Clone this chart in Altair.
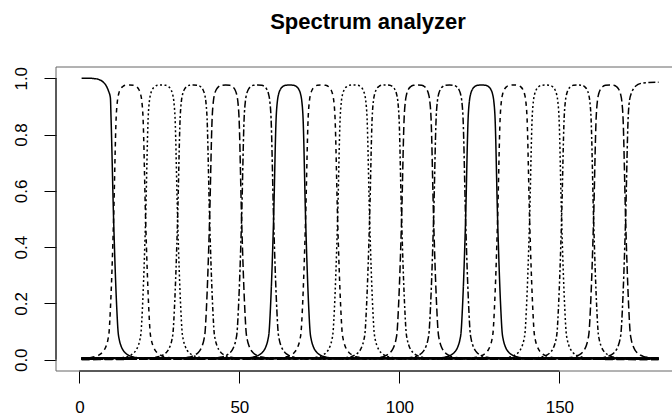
import altair as alt
import pandas as pd

# ---------------- data ----------------
TITLE = "Spectrum analyzer"
X_TICKS = [0, 50, 100, 150]
Y_TICKS = [0.0, 0.2, 0.4, 0.6, 0.8, 1.0]
X_DOMAIN = [-7.3, 185.2]
Y_DOMAIN = [-0.04, 1.04]
X_FIRST = 0.7
X_LAST = 181.0

# line type of each of the 18 filter curves (R lty 1..6 cycling)
CURVE_LTY = ["solid", "dashed", "dotted", "dotdash", "longdash", "twodash",
             "solid", "dashed", "dotted", "dotdash", "longdash", "twodash",
             "solid", "dashed", "dotted", "dotdash", "longdash", "twodash"]

# crossing points between neighbouring filters
BOUNDARIES = [10.7, 20.7, 30.7, 40.7, 50.7, 60.7, 70.7, 80.7, 90.7,
              100.7, 110.7, 120.7, 130.7, 140.7, 150.7, 160.7, 170.7]

# stop-band level of each curve (all curves overlap near zero)
CURVE_FLOOR = [0.003, 0.006, 0.002, 0.005, 0.001, 0.004, 0.006, 0.002, 0.005,
               0.003, 0.001, 0.004, 0.006, 0.002, 0.005, 0.003, 0.004, 0.007]

# low-pass plateau and knee
LOW_X = [0.7, 3.0, 4.5, 6.0, 7.3, 8.3, 9.1, 9.7]
LOW_Y = [1.0, 1.0, 0.999, 0.996, 0.988, 0.975, 0.955, 0.93]
# high-pass knee and plateau
HIGH_X = [171.9, 172.6, 173.5, 174.6, 176.0, 178.0, 181.0]
HIGH_Y = [0.92, 0.95, 0.968, 0.978, 0.983, 0.985, 0.986]

# response around one band edge: distance from the edge (positive = inside)
EDGE_D = [-9.0, -7.0, -5.5, -4.5, -3.6, -2.9, -2.3, -1.8, -1.4, -1.0,
          0.0, 0.8, 1.2, 1.6, 2.1, 2.8, 3.7]
EDGE_Y = [0.005, 0.008, 0.012, 0.017, 0.025, 0.035, 0.05, 0.07, 0.1, 0.18,
          0.5, 0.86, 0.92, 0.945, 0.96, 0.97, 0.975]
PEAK_Y = 0.976

DASH = {
    "solid": [1, 0],
    "dashed": [4.5, 4],
    "dotted": [2, 2.5],
    "dotdash": [2, 2.5, 4.5, 2.5],
    "longdash": [8, 3.5],
    "twodash": [2.5, 2.5, 7, 2.5],
}

# ---------------- build table ----------------
rows = []
n = len(CURVE_LTY)
for c in range(n):
    fl = CURVE_FLOOR[c]
    pts = []
    if c == 0:
        pts += list(zip(LOW_X, LOW_Y))
        b = BOUNDARIES[0]
        pts += [(b - d, max(y, fl)) for d, y in zip(EDGE_D, EDGE_Y) if d < 1.2]
        pts.append((X_LAST, fl))
    elif c == n - 1:
        b = BOUNDARIES[-1]
        pts.append((X_FIRST, fl))
        pts += [(b + d, max(y, fl)) for d, y in zip(EDGE_D, EDGE_Y) if d < 1.2]
        pts += list(zip(HIGH_X, HIGH_Y))
    else:
        L, R = BOUNDARIES[c - 1], BOUNDARIES[c]
        if L + EDGE_D[0] > X_FIRST:
            pts.append((X_FIRST, fl))
        pts += [(L + d, max(y, fl)) for d, y in zip(EDGE_D, EDGE_Y)]
        pts.append(((L + R) / 2, PEAK_Y))
        pts += [(R - d, max(y, fl)) for d, y in zip(EDGE_D, EDGE_Y)]
        if R - EDGE_D[0] < X_LAST:
            pts.append((X_LAST, fl))
    for x, y in pts:
        rows.append({"curve": c, "lty": CURVE_LTY[c], "x": x, "y": y})

df = pd.DataFrame(rows)

frame = pd.DataFrame({
    "x": [X_DOMAIN[0], X_DOMAIN[0], X_DOMAIN[0]],
    "x2": [X_DOMAIN[1], X_DOMAIN[1], X_DOMAIN[0]],
    "y": [Y_DOMAIN[1], Y_DOMAIN[0], Y_DOMAIN[0]],
    "y2": [Y_DOMAIN[1], Y_DOMAIN[0], Y_DOMAIN[1]],
})
axis_lines = pd.DataFrame({
    "x": [X_TICKS[0], X_DOMAIN[0]],
    "x2": [X_TICKS[-1], X_DOMAIN[0]],
    "y": [Y_DOMAIN[0], Y_TICKS[0]],
    "y2": [Y_DOMAIN[0], Y_TICKS[-1]],
})

xs = alt.Scale(domain=X_DOMAIN, nice=False, zero=False)
ys = alt.Scale(domain=Y_DOMAIN, nice=False, zero=False)

AX_X = alt.Axis(values=X_TICKS, title=None, domain=False, grid=False,
                tickSize=12, labelPadding=29, labelBaseline="alphabetic")
AX_Y = alt.Axis(values=Y_TICKS, title=None, domain=False, grid=False,
                format=".1f", tickSize=12, labelPadding=18, labelAngle=270,
                labelAlign="center", labelBaseline="alphabetic")

frame_layer = alt.Chart(frame).mark_rule(color="#666666", strokeWidth=1).encode(
    x=alt.X("x:Q", scale=xs, axis=AX_X),
    x2="x2:Q",
    y=alt.Y("y:Q", scale=ys, axis=AX_Y),
    y2="y2:Q",
)
axis_layer = alt.Chart(axis_lines).mark_rule(color="black", strokeWidth=1).encode(
    x=alt.X("x:Q", scale=xs, axis=AX_X),
    x2="x2:Q",
    y=alt.Y("y:Q", scale=ys, axis=AX_Y),
    y2="y2:Q",
)
lines = alt.Chart(df).mark_line(color="black", strokeWidth=1.5,
                                interpolate="monotone").encode(
    x=alt.X("x:Q", scale=xs, axis=AX_X),
    y=alt.Y("y:Q", scale=ys, axis=AX_Y),
    strokeDash=alt.StrokeDash("lty:N",
                              scale=alt.Scale(domain=list(DASH.keys()),
                                              range=list(DASH.values())),
                              legend=None),
    detail="curve:N",
)

chart = alt.layer(frame_layer, axis_layer, lines).properties(
    width=616,
    height=304,
    autosize="none",
    padding={"left": 56, "top": 67, "right": 0, "bottom": 45},
    background="white",
    title=alt.TitleParams(TITLE, font="Liberation Sans", fontSize=22,
                          fontWeight="bold", color="black", anchor="middle",
                          offset=32, dx=4),
).configure_view(strokeWidth=0).configure_axis(
    labelFont="Liberation Sans", labelFontSize=17, labelColor="black",
    tickColor="black", tickWidth=1,
)

chart.save("out.html", embed_options={"renderer": "svg", "actions": False})
